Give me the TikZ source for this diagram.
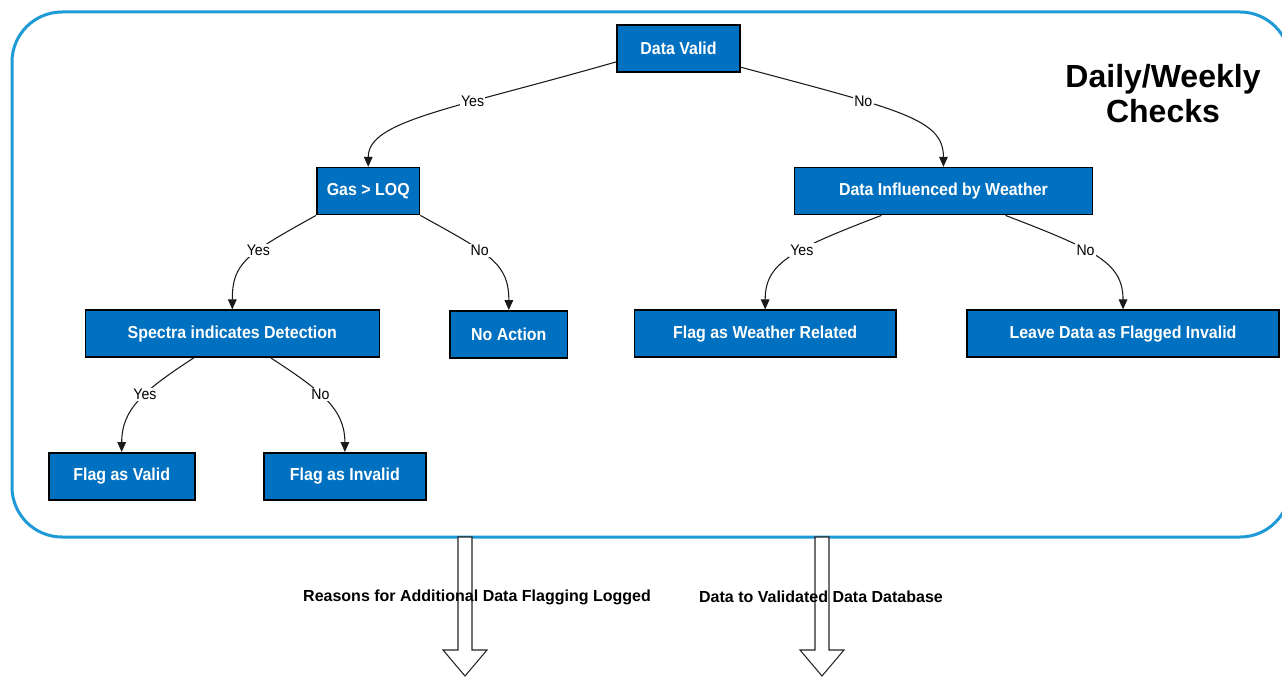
\documentclass[tikz,border=0pt]{standalone}
\usepackage{fontspec}
\setmainfont{Liberation Sans}
\newfontfamily\narrowfont{Liberation Sans}[FakeStretch=0.92]
\usetikzlibrary{arrows.meta, positioning}
\definecolor{cblue}{HTML}{0070C0}
\definecolor{cframe}{HTML}{1E9AD6}
\definecolor{cline}{HTML}{1A1A1A}
\tikzset{
  box/.style={rectangle, draw=black, line width=1.2pt, fill=cblue, text=white,
              minimum height=35.25pt, align=center, font=\narrowfont\fontsize{13}{15}\selectfont\bfseries},
  yesno/.style={fill=white, inner sep=1pt, font=\narrowfont\fontsize{11.5}{13}\selectfont},
  flow/.style={-{Triangle[length=7.5pt, width=6.5pt]}, draw=cline, line width=0.8pt},
  panel/.style={rectangle, rounded corners=37.5pt, draw=cframe, line width=2.25pt},
  bigarrow/.style={draw=black!85, line width=0.8pt, fill=white},
  outlbl/.style={font=\fontsize{12}{14}\selectfont\bfseries}
}

\begin{document}
\begin{tikzpicture}[x=0.75pt, y=0.75pt, node distance=70.5pt and 20pt]
  \useasboundingbox (0,0) rectangle (1282,-677);
  \node[panel, minimum width=958.5pt, minimum height=393.75pt] (checks) at (651,-274.5) {};
  \node[font=\fontsize{24}{26.25}\selectfont\bfseries, align=center] (title) at (1163,-94) {Daily/Weekly\\Checks};

  \node[box, minimum width=92pt] (valid) at (678.5,-48.5) {Data Valid};
  \node[box, minimum width=77pt, below left=70.5pt and 147pt of valid] (gas) {Gas > LOQ};
  \node[box, minimum width=223.5pt, below right=70.5pt and 39.75pt of valid] (weather) {Data Influenced by Weather};
  \node[box, minimum width=220.5pt, below left=70.5pt and -48pt of gas] (spectra) {Spectra indicates Detection};
  \node[box, minimum width=88pt, below right=71pt and 21.75pt of gas] (noact) {No Action};
  \node[box, minimum width=196pt, below left=70.5pt and -77.25pt of weather] (wxflag) {Flag as Weather Related};
  \node[box, minimum width=234pt, below right=70.5pt and -95.25pt of weather] (leave) {Leave Data as Flagged Invalid};
  \node[box, minimum width=109.5pt, below left=70.5pt and -83.25pt of spectra] (flagok) {Flag as Valid};
  \node[box, minimum width=121.5pt, below right=70.5pt and -87.75pt of spectra] (flagbad) {Flag as Invalid};

  \draw[flow] ([yshift=-10pt]valid.west) to[out=196, in=90, out distance=130pt, in distance=34.5pt] node[yesno, pos=0.35]{Yes} (gas.north);
  \draw[flow] ([yshift=-14pt]valid.east) to[out=345, in=90, out distance=124pt, in distance=36pt] node[yesno, pos=0.33]{No} (weather.north);
  \draw[flow] (gas.south west) to[out=209, in=90, out distance=60pt, in distance=35pt] node[yesno, pos=0.38]{Yes} (spectra.north);
  \draw[flow] (gas.south east) to[out=331, in=90, out distance=60pt, in distance=35pt] node[yesno, pos=0.38]{No} (noact.north);
  \draw[flow] ([xshift=-29pt]spectra.south) to[out=213, in=90, out distance=45pt, in distance=32pt] node[yesno, pos=0.42]{Yes} (flagok.north);
  \draw[flow] ([xshift=29pt]spectra.south) to[out=327, in=90, out distance=45pt, in distance=32pt] node[yesno, pos=0.42]{No} (flagbad.north);
  \draw[flow] ([xshift=-46.5pt]weather.south) to[out=201, in=90, out distance=72pt, in distance=35pt] node[yesno, pos=0.4]{Yes} (wxflag.north);
  \draw[flow] ([xshift=46.5pt]weather.south) to[out=339, in=90, out distance=72pt, in distance=35pt] node[yesno, pos=0.4]{No} (leave.north);

  \coordinate (logout) at (465,-537);
  \coordinate (dbout) at (822,-537);
  \foreach \c in {logout, dbout}
    \draw[bigarrow] (\c) ++(-7,0) -- ++(0,-113) -- ++(-15,0) -- ++(22,-26) -- ++(22,26) -- ++(-15,0) -- ++(0,113) -- cycle;
  \node[outlbl] (reasons) at (477,-597) {Reasons for Additional Data Flagging Logged};
  \node[outlbl] (todb) at (821,-597) {Data to Validated Data Database};
\end{tikzpicture}
\end{document}
